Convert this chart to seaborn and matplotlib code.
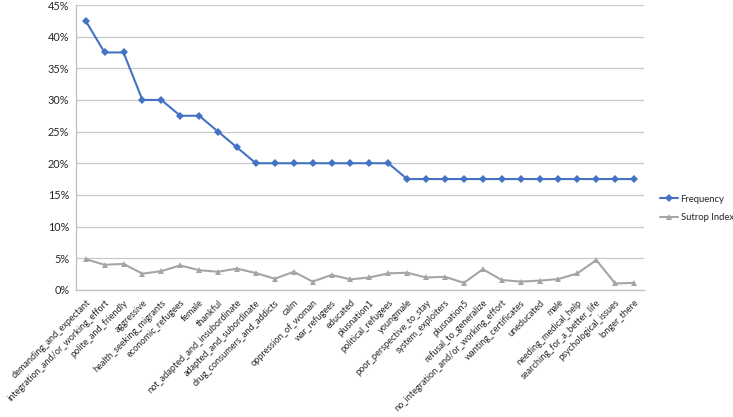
import numpy as np
import pandas as pd
import matplotlib
matplotlib.use("Agg")
import matplotlib.pyplot as plt
import seaborn as sns
from matplotlib.ticker import PercentFormatter, FixedLocator

categorias = [
    "demanding_and_expectant", "integration_and/or_working_effort", "polite_and_friendly",
    "aggressive", "health_seeking_migrants", "economic_refugees", "female", "thankful",
    "not_adapted_and_insubordinate", "adapted_and_subordinate", "drug_consumers_and_addicts",
    "calm", "oppression_of_woman", "war_refugees", "educated", "plusnation1",
    "political_refugees", "youngmale", "poor_perspective_to_stay", "system_exploiters",
    "plusnation5", "refusal_to_generalize", "no_integration_and/or_working_effort",
    "wanting_certificates", "uneducated", "male", "needing_medical_help",
    "searching_for_a_better_life", "psychological_issues", "longer_there",
]

frequency = [42.5, 37.5, 37.5, 30, 30, 27.5, 27.5, 25, 22.5, 20, 20, 20, 20, 20, 20, 20, 20,
             17.5, 17.5, 17.5, 17.5, 17.5, 17.5, 17.5, 17.5, 17.5, 17.5, 17.5, 17.5, 17.5]

sutrop = [4.85, 3.95, 4.1, 2.55, 2.95, 3.85, 3.1, 2.85, 3.35, 2.65, 1.75, 2.85, 1.3, 2.35,
          1.65, 1.95, 2.6, 2.7, 1.95, 2.05, 1.1, 3.25, 1.55, 1.3, 1.45, 1.7, 2.6, 4.7, 1.0, 1.1]

dados = pd.DataFrame({"pos": np.arange(len(categorias)), "Frequency": frequency,
                      "Sutrop Index": sutrop})

sns.set_style("white")
plt.rcParams["font.family"] = ["Lato", "DejaVu Sans"]

fig = plt.figure(figsize=(7.33, 4.17), dpi=100)
ax = fig.add_axes([0.104, 0.305, 0.774, 0.683])

sns.lineplot(data=dados, x="pos", y="Frequency", ax=ax, color="#4472C4", marker="D",
             markersize=4, markeredgewidth=0, linewidth=1.5, label="Frequency")
sns.lineplot(data=dados, x="pos", y="Sutrop Index", ax=ax, color="#A5A5A5", marker="^",
             markersize=5, markeredgewidth=0, linewidth=1.5, label="Sutrop Index")

ax.set_xlim(-0.5, len(categorias) - 0.5)
ax.set_ylim(0, 45)
ax.set_yticks(np.arange(0, 46, 5))
ax.yaxis.set_major_formatter(PercentFormatter(decimals=0))
ax.grid(axis="y", color="#C8C8C8", linewidth=0.9)
ax.set_axisbelow(True)

# rótulos inclinados como no Excel
ax.set_xticks(dados["pos"])
ax.set_xticklabels(categorias, rotation=45, ha="right", rotation_mode="anchor", fontsize=6.6)
ax.xaxis.set_minor_locator(FixedLocator(np.arange(-0.5, len(categorias), 1)))
ax.tick_params(axis="x", which="major", length=0, pad=6)
ax.tick_params(axis="x", which="minor", length=4, color="#BFBFBF", width=0.8, direction="out")
ax.tick_params(axis="y", length=0, labelsize=7.8, pad=5)
ax.set_xlabel("")
ax.set_ylabel("")

for lado in ["top", "right"]:
    ax.spines[lado].set_visible(False)
for lado in ["left", "bottom"]:
    ax.spines[lado].set_color("#BFBFBF")
    ax.spines[lado].set_linewidth(0.9)

handles, labels = ax.get_legend_handles_labels()
ax.get_legend().remove()
fig.legend(handles, labels, loc="center left", bbox_to_anchor=(0.893, 0.5), frameon=False,
           fontsize=6.8, handlelength=1.9, handletextpad=0.25, labelspacing=1.0,
           borderaxespad=0.2)

fig.savefig("out.png", dpi=100)
